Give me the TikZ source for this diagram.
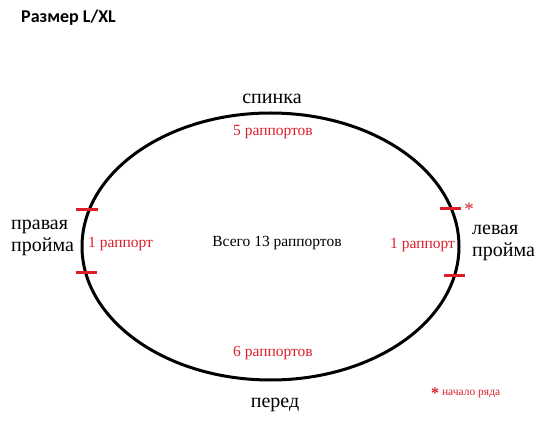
\documentclass[tikz,border=0pt]{standalone}
\usepackage{fontspec}
\setmainfont{Liberation Serif}
\newfontfamily\titlefont{Carlito}
\definecolor{mred}{RGB}{220,30,40}
\begin{document}
\begin{tikzpicture}[x=1pt,y=-1pt,
  lbl/.style={font=\fontsize{20}{22}\selectfont, inner sep=0pt},
  rlbl/.style={font=\fontsize{15.5}{17}\selectfont, text=mred, inner sep=0pt},
  tick/.style={draw=mred, line width=3pt}]
\useasboundingbox (0,0) rectangle (551,435);
\node[anchor=west, inner sep=0pt, font=\titlefont\bfseries\fontsize{18}{20}\selectfont] (title) at (21,18) {Размер L/XL};
\draw[line width=3pt] (270.5,246.5) ellipse [x radius=188.5, y radius=133.5];
\coordinate (lu1) at (76,210); \coordinate (lu2) at (98,210);
\coordinate (ll1) at (76,273); \coordinate (ll2) at (97,273);
\coordinate (ru1) at (440,209); \coordinate (ru2) at (461,209);
\coordinate (rl1) at (444,276); \coordinate (rl2) at (465,276);
\draw[tick] (lu1) -- (lu2);
\draw[tick] (ll1) -- (ll2);
\draw[tick] (ru1) -- (ru2);
\draw[tick] (rl1) -- (rl2);
\node[lbl] (back) at (272,99) {спинка};
\node[rlbl] (five) at (273,132) {5 раппортов};
\node[rlbl] (six) at (273,353) {6 раппортов};
\node[lbl] (front) at (275,405) {перед};
\node[lbl, anchor=west, align=left] (rarm) at (11,238) {правая\\пройма};
\node[rlbl, anchor=west] (r1) at (88,244) {1 раппорт};
\node[anchor=center, inner sep=0pt, font=\fontsize{15.5}{17}\selectfont] (total) at (277,243) {Всего 13 раппортов};
\node[rlbl, anchor=west] (l1) at (390,245) {1 раппорт};
\node[rlbl, font=\fontsize{19}{19}\selectfont] (star) at (469,209) {*};
\node[lbl, anchor=west, align=left] (larm) at (472,243) {левая\\пройма};
\node[rlbl, anchor=west, font=\fontsize{11.5}{13}\selectfont] (legend) at (431,393) {\raisebox{-3pt}{\fontsize{16}{16}\selectfont\bfseries*} начало ряда};
\end{tikzpicture}
\end{document}
